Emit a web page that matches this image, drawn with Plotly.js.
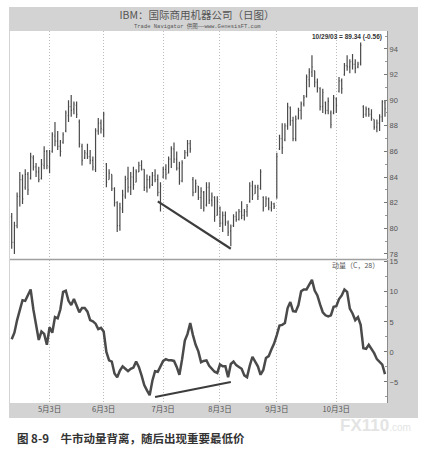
<!DOCTYPE html>
<html>
<head>
<meta charset="utf-8">
<script src="https://cdn.plot.ly/plotly-3.0.1.min.js"></script>
<style>html,body{margin:0;padding:0;background:#fff;}#chart{width:427px;height:451px;}</style>
</head>
<body>
<div id="chart"></div>
<script>
// ---- data ----
var startDay = '2003-04-14';
var endDay = '2003-10-29';
var holidays = ['2003-04-18', '2003-05-26', '2003-07-04', '2003-09-01'];

var priceOpen = [80.9,78.9,80.2,82.5,83.8,83.2,84.2,83.9,85.5,84.8,
84.4,83.9,84.9,86.0,84.8,86.0,87.2,86.8,86.4,86.7,
87.6,88.8,89.5,89.3,89.6,88.3,86.4,85.5,85.8,85.6,
85.3,84.6,87.6,88.2,87.7,85.0,83.8,84.2,83.1,82.0,
80.2,81.5,82.5,83.9,83.2,84.0,83.6,84.4,84.9,84.6,
83.2,83.8,83.4,84.1,83.8,82.8,84.0,84.6,84.3,85.4,
86.2,85.4,84.7,83.7,85.5,85.9,86.6,83.8,82.8,83.3,
82.4,82.8,81.8,83.2,82.2,82.4,81.0,81.6,80.4,81.0,
80.4,79.8,80.2,80.9,80.7,81.3,81.0,81.3,82.1,83.3,
82.7,83.2,83.1,82.4,81.7,82.3,81.6,81.9,82.5,86.2,
87.0,86.9,88.0,89.4,88.4,87.0,88.6,89.2,89.7,90.3,
91.6,92.2,92.3,91.4,90.9,89.5,89.8,89.2,89.0,89.0,
90.1,90.7,91.5,92.0,92.7,92.6,93.0,92.8,92.6,92.9,
89.5,88.9,89.3,88.9,88.5,87.9,88.2,88.7,89.8];

var priceHigh = [81.2,80.5,82.8,84.4,84.2,84.6,84.4,85.9,85.7,85.1,
84.8,85.4,86.4,86.1,86.1,87.5,88.3,87.6,86.9,87.5,
89.2,90.0,90.4,89.9,89.9,88.5,86.6,86.1,86.6,86.1,
85.6,87.8,88.6,88.5,89.1,85.1,84.6,84.2,83.2,82.1,
82.0,83.0,84.1,84.8,84.4,84.8,84.6,85.2,85.3,84.6,
84.2,84.1,84.4,84.6,84.2,83.6,84.8,85.0,85.6,86.4,
86.7,86.0,85.2,85.3,86.1,86.9,86.9,84.0,83.8,83.3,
83.2,82.9,83.6,83.6,82.8,82.5,82.5,81.7,81.3,81.3,
80.6,80.3,81.1,81.3,81.5,82.1,81.5,81.9,83.6,83.7,
83.4,83.4,84.6,82.5,82.5,82.4,82.1,82.0,85.9,87.3,
88.2,88.2,89.8,89.5,88.7,88.8,89.4,89.9,90.4,92.0,
92.5,93.5,92.3,91.7,91.0,90.9,89.9,90.2,89.2,90.4,
90.2,91.8,91.7,92.9,93.5,93.2,93.6,93.2,93.0,94.5,
89.6,89.5,89.4,89.3,88.5,88.5,88.9,90.0,90.0];

var priceLow = [78.4,78.0,80.0,81.7,81.9,83.0,82.6,83.8,84.5,84.0,
83.6,83.8,84.6,84.6,84.3,85.9,86.4,86.1,85.6,86.6,
87.5,88.3,88.7,88.9,88.6,86.3,84.9,85.4,85.4,85.0,
84.5,84.4,87.3,87.4,87.1,83.2,83.8,82.9,81.7,79.7,
79.8,81.2,82.3,82.8,82.6,83.0,83.6,84.4,84.5,82.9,
82.8,83.1,83.3,83.6,82.5,81.3,83.9,83.8,84.3,84.7,
85.1,84.5,83.4,83.6,85.4,85.6,85.9,82.5,82.8,82.2,
81.5,81.3,81.7,81.9,81.7,80.5,81.0,80.1,79.7,80.2,
79.4,78.6,80.1,80.5,80.6,80.7,80.6,80.9,82.0,82.2,
82.7,82.2,83.0,81.3,81.7,81.4,81.3,81.5,82.3,86.1,
85.8,86.8,87.7,88.0,86.8,86.8,88.5,88.5,89.5,90.2,
91.0,91.8,91.0,90.6,89.2,89.0,88.9,88.9,87.8,88.9,
89.0,90.6,90.5,91.9,92.3,92.1,92.4,92.1,92.5,92.7,
88.6,88.7,88.7,88.4,87.7,87.5,87.6,88.3,88.7];

var priceClose = [78.9,80.2,82.5,83.8,82.3,84.2,83.0,85.6,84.8,84.4,
83.8,85.0,86.0,84.9,85.8,87.3,86.8,86.4,86.0,87.3,
89.0,89.5,89.2,89.7,88.9,86.6,85.3,85.9,85.6,85.3,
84.8,87.6,88.2,87.8,88.9,83.6,84.3,83.1,82.0,80.2,
81.6,82.6,83.8,83.2,84.0,83.4,84.4,84.9,84.6,83.2,
83.8,83.3,84.1,83.8,82.8,83.3,84.6,84.2,85.4,86.2,
85.4,84.7,83.7,85.1,85.9,86.6,86.2,82.8,83.5,82.4,
82.9,81.6,83.2,82.2,82.5,80.9,82.1,80.4,81.0,80.5,
79.7,80.1,80.9,80.7,81.3,81.0,81.3,81.7,83.3,82.6,
83.2,82.5,84.4,81.6,82.3,81.6,81.9,81.7,85.6,87.0,
86.3,88.0,89.5,88.4,87.0,88.5,89.2,89.7,90.2,91.8,
92.2,92.6,91.4,91.0,89.5,90.6,89.2,89.9,88.1,90.2,
89.6,91.5,90.9,92.7,92.6,93.0,92.8,92.5,92.8,94.3,
88.9,89.3,88.9,88.6,87.9,88.2,88.7,89.9,89.34];

var momentum = [2.1,3.2,5.3,7.2,8.6,8.5,9.5,10.4,7.1,4.8,
2.0,3.4,3.0,1.2,4.1,3.2,5.8,5.6,7.1,10.0,
10.2,8.5,7.8,8.8,7.8,6.6,7.3,7.3,6.7,5.3,
5.1,4.7,3.8,4.0,3.4,0.0,-1.4,-1.6,-3.6,-4.2,
-3.1,-2.4,-2.8,-3.2,-2.8,-2.6,-1.6,-2.5,-3.9,-5.5,
-6.4,-7.2,-4.8,-3.2,-3.3,-2.4,-1.5,-1.2,-1.4,-1.4,
-1.5,-2.5,-3.8,-1.2,1.9,3.0,4.8,2.8,1.2,0.1,
-1.7,-1.5,-1.4,-2.3,-2.8,-3.3,-3.5,-2.1,-2.4,-2.4,
-4.2,-2.0,-1.6,-2.2,-2.5,-2.8,-3.9,-4.2,-2.3,-0.8,
-1.6,-2.4,-3.8,-3.0,-1.0,-0.7,0.4,1.4,2.8,4.4,
4.5,4.8,7.3,8.3,6.8,6.7,7.8,10.1,10.4,10.4,
11.2,12.0,10.2,9.4,7.9,6.6,6.1,5.9,6.1,7.5,
7.6,8.8,9.4,10.4,10.0,7.2,6.4,5.3,5.8,4.5,
0.6,0.5,1.2,0.5,-0.2,-1.2,-1.7,-2.1,-3.7];

// divergence lines
var priceTrendX = ['2003-07-01', '2003-08-08'];
var priceTrendY = [82.1, 78.4];
var momTrendX = ['2003-06-30', '2003-08-08'];
var momTrendY = [-7.5, -5.0];

var tickDates = ['2003-05-05', '2003-06-03', '2003-07-03', '2003-08-04', '2003-09-03', '2003-10-03'];
var tickLabels = ['5月3日', '6月3日', '7月3日', '8月3日', '9月3日', '10月3日'];

var titleText = 'IBM：国际商用机器公司（日图）';
var subtitleText = 'Trade Navigator 供图——www.GenesisFT.com';
var lastQuote = '10/29/03 = 89.34 (-0.56)';
var momLabel = '动量（C，28）';
var captionText = '图 8-9　牛市动量背离，随后出现重要最低价';

// ---- trading-day categories ----
function tradingDays(a, b, skip) {
  var out = [];
  var d = new Date(a + 'T00:00:00Z');
  var e = new Date(b + 'T00:00:00Z');
  while (d <= e) {
    var s = d.toISOString().slice(0, 10);
    var wd = d.getUTCDay();
    if (wd !== 0 && wd !== 6 && skip.indexOf(s) < 0) out.push(s);
    d.setUTCDate(d.getUTCDate() + 1);
  }
  return out;
}
var days = tradingDays(startDay, endDay, holidays);

// ---- layout geometry (pixels) ----
var W = 427, H = 451;
var L = 10, R = 387, T = 31, B = 403;
function px(x) { return (x - L) / (R - L); }
function py(y) { return (B - y) / (B - T); }

var ink = '#4a4a4a';
var cjk = 'Noto Sans CJK SC, sans-serif';

var traces = [
  {
    type: 'ohlc', x: days, open: priceOpen, high: priceHigh, low: priceLow, close: priceClose,
    xaxis: 'x', yaxis: 'y', tickwidth: 0.3, hoverinfo: 'skip',
    increasing: {line: {color: ink, width: 1.2}},
    decreasing: {line: {color: ink, width: 1.2}}
  },
  {
    type: 'scatter', mode: 'lines', x: priceTrendX, y: priceTrendY, xaxis: 'x', yaxis: 'y',
    line: {color: '#3c3c3c', width: 2.2}, hoverinfo: 'skip'
  },
  {
    type: 'scatter', mode: 'lines', x: days, y: momentum, xaxis: 'x', yaxis: 'y2',
    line: {color: ink, width: 2.5}, hoverinfo: 'skip'
  },
  {
    type: 'scatter', mode: 'lines', x: momTrendX, y: momTrendY, xaxis: 'x', yaxis: 'y2',
    line: {color: '#3c3c3c', width: 2}, hoverinfo: 'skip'
  }
];

var splitY = py(259);
var layout = {
  width: W, height: H,
  margin: {l: L, r: W - R, t: T, b: H - B, pad: 0},
  paper_bgcolor: '#ffffff',
  plot_bgcolor: 'rgba(0,0,0,0)',
  showlegend: false,
  title: {
    text: titleText, xref: 'container', yref: 'container',
    x: 197 / W, xanchor: 'center', y: 1 - 15 / H, yanchor: 'middle',
    font: {family: cjk, size: 10.5, color: '#555'}
  },
  xaxis: {
    type: 'category', anchor: 'y2', range: [-0.63, 138.74],
    tickmode: 'array', tickvals: tickDates, ticktext: tickLabels,
    ticks: '', showgrid: true, gridcolor: '#bdbdbd', griddash: '1px,2px', gridwidth: 1,
    zeroline: false, showline: false, fixedrange: true,
    rangeslider: {visible: false},
    tickfont: {family: cjk, size: 7.5, color: '#555'}
  },
  yaxis: {
    domain: [splitY, 1], range: [77.6, 95.4], side: 'right', anchor: 'x',
    tickmode: 'linear', tick0: 78, dtick: 2,
    ticks: 'inside', ticklen: 3, tickcolor: '#777',
    minor: {ticks: 'inside', ticklen: 2, dtick: 1, tickcolor: '#999'},
    showgrid: false, zeroline: false, showline: true, linecolor: '#8a8a8a', linewidth: 1,
    tickfont: {family: 'Liberation Sans, Arial, sans-serif', size: 7.5, color: '#555'},
    fixedrange: true
  },
  yaxis2: {
    domain: [0, py(260)], range: [-8.5, 15.3], side: 'right', anchor: 'x',
    tickmode: 'linear', tick0: 0, dtick: 5,
    ticks: 'inside', ticklen: 3, tickcolor: '#777',
    minor: {ticks: 'inside', ticklen: 2, dtick: 2.5, tickcolor: '#999'},
    showgrid: false, zeroline: false, showline: true, linecolor: '#8a8a8a', linewidth: 1,
    tickfont: {family: 'Liberation Sans, Arial, sans-serif', size: 7.5, color: '#555'},
    fixedrange: true
  },
  shapes: [
    {type: 'rect', layer: 'below', xref: 'paper', yref: 'paper',
      x0: px(9), x1: px(418), y0: py(418), y1: py(7),
      fillcolor: '#d3d3d3', line: {width: 0}},
    {type: 'rect', layer: 'below', xref: 'paper', yref: 'paper',
      x0: 0, x1: 1, y0: splitY, y1: 1, fillcolor: '#ffffff', line: {width: 0}},
    {type: 'rect', layer: 'below', xref: 'paper', yref: 'paper',
      x0: 0, x1: 1, y0: 0, y1: py(260), fillcolor: '#ffffff', line: {width: 0}},
    {type: 'line', xref: 'paper', yref: 'paper',
      x0: 0, x1: 1, y0: py(259.5), y1: py(259.5), line: {color: '#a0a0a0', width: 1.5}}
  ],
  annotations: [
    {text: subtitleText, xref: 'paper', yref: 'paper', x: px(197), y: py(26),
      xanchor: 'center', yanchor: 'middle', showarrow: false,
      font: {family: 'Liberation Mono, ' + cjk, size: 5.5, color: '#555'}},
    {text: '<b>' + lastQuote + '</b>', xref: 'paper', yref: 'paper', x: px(384), y: py(37),
      xanchor: 'right', yanchor: 'middle', showarrow: false,
      font: {family: 'Liberation Sans, Arial, sans-serif', size: 6.5, color: '#333'}},
    {text: momLabel, xref: 'paper', yref: 'paper', x: px(381), y: py(265),
      xanchor: 'right', yanchor: 'middle', showarrow: false,
      font: {family: cjk, size: 7, color: '#555'}},
    {text: '<b>FX110</b><span style="font-size:10px">.com</span>', xref: 'paper', yref: 'paper',
      x: px(338), y: py(425), xanchor: 'left', yanchor: 'middle', showarrow: false,
      font: {family: 'Liberation Sans, Arial, sans-serif', size: 17, color: '#e4e4e4'}},
    {text: '<b>' + captionText + '</b>', xref: 'paper', yref: 'paper', x: px(15), y: py(438),
      xanchor: 'left', yanchor: 'middle', showarrow: false,
      font: {family: cjk, size: 11.5, color: '#333'}}
  ]
};

Plotly.newPlot('chart', traces, layout, {staticPlot: true, displayModeBar: false});
</script>
</body>
</html>
